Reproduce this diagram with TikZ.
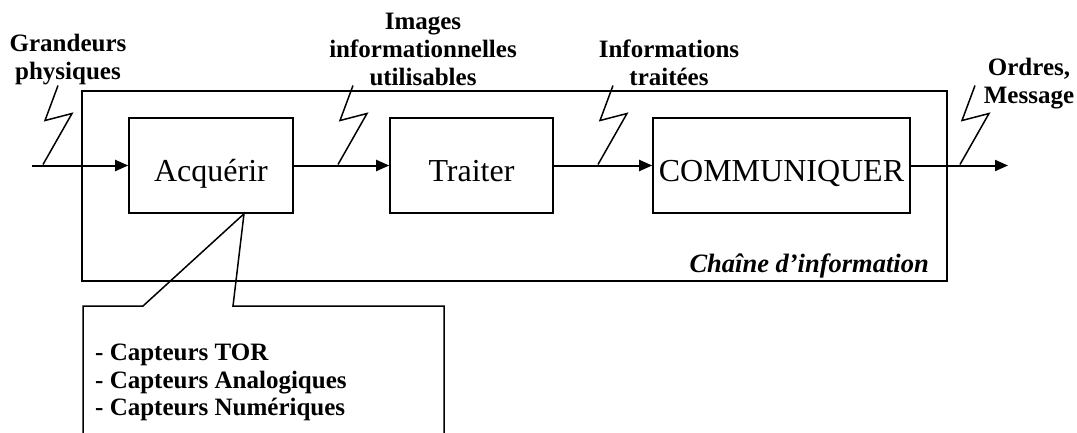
\documentclass[tikz,border=0pt]{standalone}
\usepackage{fontspec}
\setmainfont{Liberation Serif}
\usetikzlibrary{arrows.meta}
\begin{document}
\begin{tikzpicture}[x=1pt,y=-1pt,
  blk/.style={draw,line width=1.6pt,minimum height=95pt,inner sep=0pt,text height=32pt,text depth=0pt,font=\fontsize{32}{36}\selectfont},
  outerbox/.style={draw,line width=2.2pt,inner sep=0pt},
  flow/.style={line width=2pt,-{Triangle[length=13pt,width=11pt]}},
  lbl/.style={inner sep=0pt,align=center,font=\fontsize{25}{28}\selectfont\bfseries},
  zz/.style={line width=1.5pt,line join=miter},
  pics/zig/.style={code={\draw[zz] (0,-1) -- (29,-52) -- (2,-45) -- (15,-80);}}]
\useasboundingbox (0,0) rectangle (1077,432);
% outer chain
\node[outerbox,minimum width=865pt,minimum height=190pt] (chaine) at (514.5,186) {};
\node[inner sep=0pt,anchor=base east,font=\fontsize{26.5}{30}\selectfont\bfseries\itshape] (chlbl) at (929,272) {Chaîne d’information};
% blocks
\node[blk,minimum width=164pt] (acq) at (211,165.5) {Acquérir};
\node[blk,minimum width=163pt] (tra) at (471.5,165.5) {Traiter};
\node[blk,minimum width=257pt] (com) at (781.5,165.5) {COMMUNIQUER};
\coordinate (in) at (32,165.5);
\coordinate (out) at (1008,165.5);
\draw[flow] (in) -- (acq.west);
\draw[flow] (acq.east) -- (tra.west);
\draw[flow] (tra.east) -- (com.west);
\draw[flow] (com.east) -- (out);
% zigzags
\pic at (43,165.5) {zig};
\pic at (338,165.5) {zig};
\pic at (598,165.5) {zig};
\pic at (960,165.5) {zig};
% labels
\node[lbl] (l1) at (68,60) {Grandeurs\\physiques};
\node[lbl] (l2) at (423,49) {Images\\informationnelles\\utilisables};
\node[lbl] (l3) at (669,63) {Informations\\traitées};
\node[lbl] (l4) at (1029,84) {Ordres,\\Message};
% callout
\path (acq.south) ++(33,0) coordinate (tip);
\coordinate (cbl) at (83,440);
\coordinate (cbr) at (444,440);
\draw[line width=1.5pt,line join=miter] (cbl) -- (83,306) -- (143,306) -- (tip) -- (233,306) -- (444,306) -- (cbr);
\node[inner sep=0pt,anchor=north west,align=left,font=\fontsize{25}{27.5}\selectfont\bfseries] (capt) at (95,344) {- Capteurs TOR\\- Capteurs Analogiques\\- Capteurs Numériques};
\end{tikzpicture}
\end{document}
